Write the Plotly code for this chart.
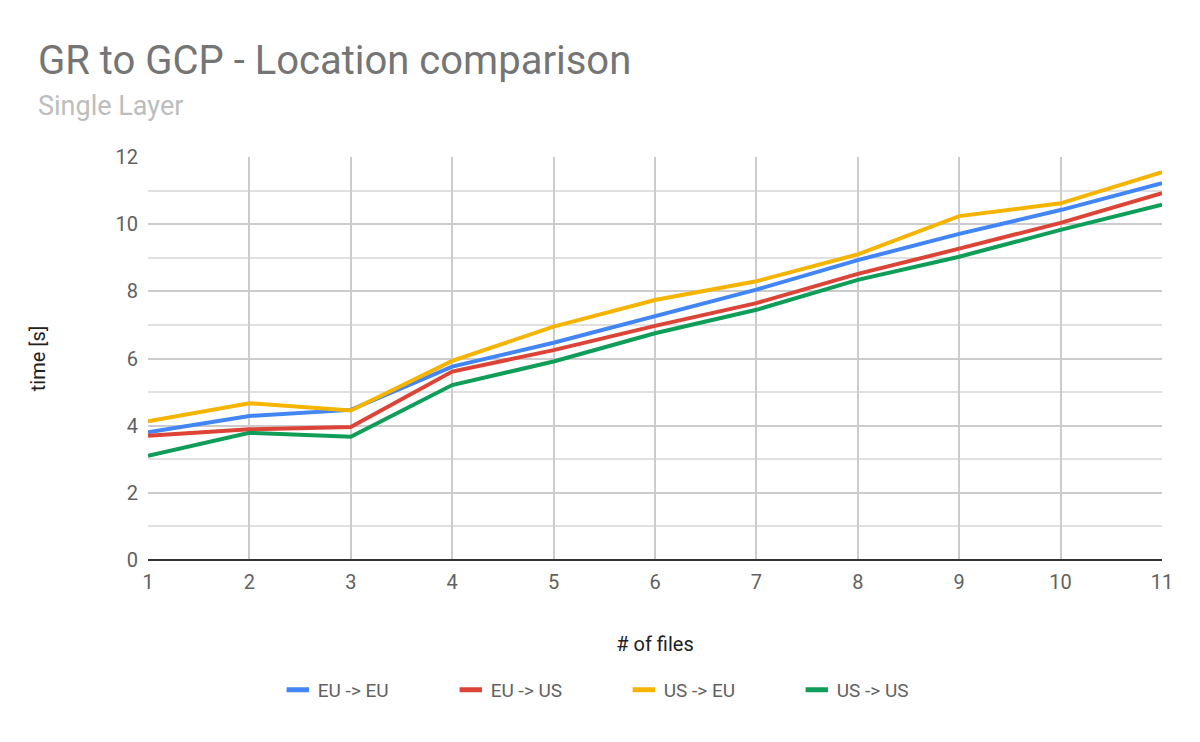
import plotly.graph_objects as go

files = [1, 2, 3, 4, 5, 6, 7, 8, 9, 10, 11]
eu_eu = [3.80, 4.29, 4.47, 5.76, 6.47, 7.27, 8.05, 8.93, 9.71, 10.42, 11.22]
eu_us = [3.70, 3.89, 3.96, 5.61, 6.25, 6.97, 7.65, 8.52, 9.27, 10.04, 10.92]
us_eu = [4.13, 4.67, 4.45, 5.93, 6.95, 7.74, 8.30, 9.10, 10.24, 10.62, 11.55]
us_us = [3.10, 3.79, 3.67, 5.21, 5.91, 6.75, 7.45, 8.34, 9.03, 9.83, 10.58]

series = [
    ("EU -> EU", eu_eu, "#4285F4"),
    ("EU -> US", eu_us, "#DB4437"),
    ("US -> EU", us_eu, "#F4B400"),
    ("US -> US", us_us, "#0F9D58"),
]

FONT = "Roboto, Arial, sans-serif"

fig = go.Figure()
for name, vals, color in series:
    fig.add_trace(go.Scatter(
        x=files, y=vals, name=name, mode="lines",
        line=dict(color=color, width=4), showlegend=False
    ))

# legend entries drawn as short thick bars like the original
for name, vals, color in series:
    fig.add_trace(go.Scatter(
        x=[None], y=[None], name=name, mode="markers",
        marker=dict(symbol="line-ew-open", size=18, color=color,
                    line=dict(color=color, width=6)),
    ))

fig.update_layout(
    width=1200, height=742,
    margin=dict(l=140, r=46, t=149, b=190),
    plot_bgcolor="white", paper_bgcolor="white",
    font=dict(family=FONT, size=20, color="#616161"),
    showlegend=True,
    legend=dict(
        orientation="h", x=0.128, xanchor="left", y=-0.3226, yanchor="middle",
        font=dict(size=19, color="#616161"), itemwidth=30,
        entrywidth=128, entrywidthmode="pixels",
        traceorder="normal",
    ),
    annotations=[
        dict(text="GR to GCP - Location comparison", xref="paper", yref="paper",
             x=-0.11, y=1.24, xanchor="left", yanchor="middle", showarrow=False,
             font=dict(size=40, color="#757575", family=FONT)),
        dict(text="Single Layer", xref="paper", yref="paper",
             x=-0.11, y=1.127, xanchor="left", yanchor="middle", showarrow=False,
             font=dict(size=27, color="#BDBDBD", family=FONT)),
    ],
)

fig.update_xaxes(
    range=[1, 11], dtick=1, tick0=1,
    showgrid=True, gridcolor="#CCCCCC", gridwidth=2,
    zeroline=False, showline=False, ticks="", ticklabelstandoff=8,
    title=dict(text="# of files", font=dict(size=20, color="#212121"), standoff=43),
    tickfont=dict(size=20, color="#616161"),
)
fig.update_yaxes(
    range=[0, 12], dtick=2, tick0=0,
    showgrid=True, gridcolor="#CCCCCC", gridwidth=2,
    minor=dict(dtick=1, showgrid=True, gridcolor="#E0E0E0", gridwidth=2),
    zeroline=True, zerolinecolor="#333333", zerolinewidth=2,
    showline=False, ticks="", ticklabelstandoff=9,
    title=dict(text="time [s]", font=dict(size=20, color="#212121"), standoff=64),
    tickfont=dict(size=20, color="#616161"),
)

fig.write_html("out.html")
